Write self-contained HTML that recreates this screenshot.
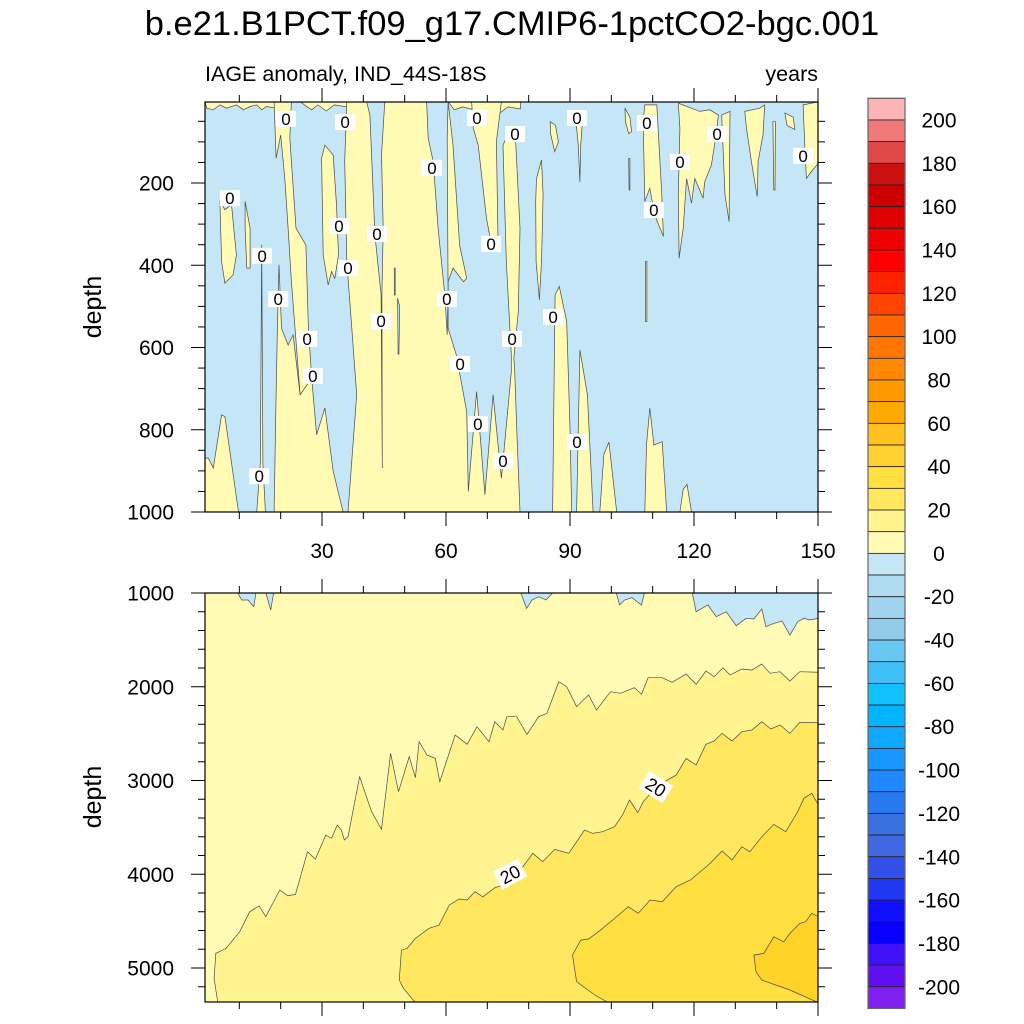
<!DOCTYPE html>
<html><head><meta charset="utf-8"><style>
html,body{margin:0;padding:0;background:#fff;}
svg{display:block;font-family:"Liberation Sans",Arial,sans-serif;}
</style></head><body>
<svg id="chart" width="1024" height="1024" viewBox="0 0 1024 1024" xmlns="http://www.w3.org/2000/svg">
<defs>
<clipPath id="clipTop"><rect x="205" y="102" width="613" height="410"/></clipPath>
<clipPath id="clipBot"><rect x="205" y="593" width="613" height="409"/></clipPath>
</defs>
<text x="512" y="35" font-size="34.5" text-anchor="middle" fill="#000">b.e21.B1PCT.f09_g17.CMIP6-1pctCO2-bgc.001</text>
<text x="205" y="81" font-size="21.5" fill="#000">IAGE anomaly, IND_44S-18S</text>
<text x="818" y="81" font-size="21.5" text-anchor="end" fill="#000">years</text>
<g id="topPanel"></g>
<g id="botPanel"></g>
<g id="cbar"></g>
<text transform="translate(101,307) rotate(-90)" font-size="25" text-anchor="middle">depth</text>
<text transform="translate(101,797) rotate(-90)" font-size="25" text-anchor="middle">depth</text>
</svg>
<script>
// ---- data ----
const xTickYears = [30, 60, 90, 120, 150];
const topDepthTicks = [200, 400, 600, 800, 1000];
const botDepthTicks = [1000, 2000, 3000, 4000, 5000];
const cbarLevels = [-200,-190,-180,-170,-160,-150,-140,-130,-120,-110,-100,-90,-80,-70,-60,-50,-40,-30,-20,-10,0,10,20,30,40,50,60,70,80,90,100,110,120,130,140,150,160,170,180,190,200];
const cbarLabels = [200,180,160,140,120,100,80,60,40,20,0,-20,-40,-60,-80,-100,-120,-140,-160,-180,-200];
const cbarColors = ["#8020f0","#6010f0","#4010f8","#0800ff","#1010ff","#2038f0","#3050e8","#4068e0","#3870e0","#2878f0","#2088ff","#1898ff","#10a8ff","#00b4ff","#10c0ff","#40c0f8","#68c8f2","#90ccea","#a0d4ee","#b0dcf2","#c4e6f6","#fffab4","#fff490","#ffe860","#ffe040","#ffd030","#ffc020","#ffaa00","#ff9900","#ff8800","#ff7700","#ff6600","#ff4400","#ff2200","#ff0000","#ee0000","#dd0000","#cc0000","#cc1010","#e04848","#f07a7a","#fcb4b4"];

// top panel: positive (>=0) regions as [year, depth] polygons
const topPositive = [
 [[1.7,2],[19,2],[19,18],[16.6,14],[15.4,22],[14.2,10],[12.6,14],[11,22],[9.3,10],[6.9,18],[5.3,10],[3.7,22],[2.1,18]],
 [[24.7,2],[36,2],[36,15],[33,10],[31,25],[29,10],[27.5,22],[26,12]],
 [[60.5,2],[78,2],[78,20],[75,15],[73,30],[70,12],[68,25],[64,15],[62,22]],
 [[1.7,1000],[1.7,869],[2.5,869],[3.7,893],[5.7,764],[6.5,768],[9.8,1000]],
 [[5.3,245],[6.5,265],[8.1,253],[9.3,375],[8.5,423],[6.5,444],[5.7,391]],
 [[11.4,245],[12.6,310],[12.6,407],[11.8,407],[11.4,310]],
 [[15.4,350],[15.7,880],[16.3,1000],[14.2,1000],[15.1,880]],
 [[18.4,2],[22.6,2],[22.2,91],[23.7,310],[26.1,351],[26.7,553],[27.5,675],[24.7,715],[24.1,634],[22.6,440],[21.8,310],[21,189],[20,83],[18.9,140]],
 [[19.6,399],[20.2,553],[21.8,594],[23,569],[24.7,715],[27.5,675],[28.7,812],[30.7,747],[32.7,901],[35.1,1000],[18.4,1000],[18.9,715],[19.2,553]],
 [[29.9,140],[30.7,108],[32.7,132],[33.5,253],[34,375],[33.1,432],[32.3,415],[31.5,448],[30.3,375]],
 [[36,2],[60.5,2],[61.7,108],[63.3,351],[65,432],[64.2,440],[61.7,407],[60.5,440],[60.5,553],[62.5,618],[65,756],[65.4,950],[67.4,707],[69.4,958],[71.4,715],[73.4,918],[75.8,660],[75.8,618],[74.6,391],[73.8,108],[75,80],[76.7,67],[77.9,310],[77.5,513],[76.4,626],[76.6,650],[77.1,796],[77.9,1000],[36.3,1000],[38.4,715],[37.2,553],[36,391],[35.5,148]],
 [[66.2,2],[73.4,2],[72.2,99],[72.6,351],[71,351],[69.8,286],[67.8,108],[66.6,67]],
 [[81.9,189],[83.1,144],[83.5,229],[83.1,391],[82.6,484],[81.8,391],[81.7,245]],
 [[85.2,51],[86.5,60],[87.2,100],[86.3,124],[85.3,80]],
 [[91.2,26],[93.2,26],[92.6,108],[92.4,197],[92,108]],
 [[103.3,18],[104.5,40],[104.9,75],[104.2,80],[103.4,50]],
 [[104.2,140],[104.5,140],[104.5,217],[104.3,217]],
 [[108.1,10],[111,10],[112.2,229],[112.6,330],[110.5,278],[109.3,213],[108.1,245],[107.7,51]],
 [[116.2,6],[121.4,26],[123.8,22],[125.9,35],[125.1,99],[124.2,156],[122.6,197],[122.2,237],[120.2,189],[119.4,249],[118.2,189],[117.4,310],[116.4,383],[116.2,229],[116.6,67]],
 [[126.7,35],[128.7,26],[128.5,294],[127.5,229]],
 [[132.3,26],[135.9,18],[137.1,10],[136.7,83],[135.5,148],[135.3,233],[133.9,148],[132.7,67]],
 [[139.1,51],[139.7,51],[139.6,217],[139.3,217]],
 [[142,30],[144,40],[144.4,70],[142.5,60]],
 [[146.4,10],[150.4,2],[150.4,148],[148.4,172],[147.2,189],[146.8,108]],
 [[108.3,391],[108.6,391],[108.6,537],[108.3,537]],
 [[85.8,1000],[86.4,472],[87.4,452],[89.2,537],[90,796],[90.4,1000]],
 [[91.6,1000],[92.4,606],[94.2,715],[95.6,1000]],
 [[97.2,1000],[98.2,860],[99.4,830],[101.3,1000]],
 [[108.1,1000],[108.5,837],[109.3,747],[110.3,837],[112.3,829],[113.4,1000]],
 [[116.6,1000],[117.4,945],[118.3,933],[119.4,1000]]
];
// negative tongues inside positive regions
const topNegative = [
 [[40.8,2],[45.2,2],[44.4,132],[44.8,310],[44.5,472],[44.6,893],[44.3,472],[42.8,326],[42.2,180],[41.6,35]],
 [[55.3,2],[60.5,2],[60.3,91],[60.5,472],[60.3,569],[59.7,472],[58.1,310],[56.9,148],[55.7,91]],
 [[47.5,407],[47.7,407],[47.7,472],[47.5,472]],
 [[48.3,480],[48.8,500],[48.6,616],[48.4,616]]
];
const topLabelYears = [21.3,35.6,67.5,76.7,91.7,108.6,125.6,146.4,116.6,56.6,7.7,110.3,34.1,43.3,70.9,15.5,36.3,60.2,19.4,85.9,44.3,26.4,76,27.8,63.4,67.7,91.7,14.8,73.8];
const topLabelDepths = [44,52,42,81,42,54,81,134,149,163,237,266,305,324,348,377,407,482,482,526,536,579,579,669,640,786,830,913,876];

// bottom panel contours [year, depth]
const contour10 = [[4.8,5370],[3.9,5111],[4.3,4844],[6.8,4791],[10.1,4613],[12.5,4400],[14.8,4336],[16.4,4453],[19.8,4168],[21.7,4229],[23.6,4215],[26.5,3760],[28.4,3838],[30.9,3582],[32.3,3617],[33.7,3475],[34.7,3528],[35.4,3635],[36.3,3600],[39.1,2959],[42,3333],[44.4,3521],[46.6,2710],[48.5,3119],[51.1,2746],[52.6,2970],[53.5,2586],[55.4,2728],[57.4,2764],[58.5,3013],[62.2,2515],[65.1,2614],[67.5,2426],[70.4,2586],[71.8,2373],[73.8,2461],[74.7,2319],[77.1,2319],[79.6,2508],[82.4,2319],[84.4,2284],[87.3,1946],[89.2,1999],[91.6,2213],[94.5,2088],[96.4,2248],[99.8,2053],[102.2,2070],[105.6,2010],[107.3,2081],[108.9,1903],[112.3,1903],[114.7,1953],[118.1,1864],[120.5,1974],[122.9,1832],[124.9,1893],[127,1797],[128.7,1875],[131.6,1811],[134,1822],[136.4,1757],[138.4,1857],[140.8,1839],[143.2,1939],[145.6,1839],[150.1,1846]];
const contour20 = [[52.6,5370],[49.7,5217],[48.7,5129],[49.2,4809],[50.6,4791],[52.6,4684],[55.9,4577],[58.3,4542],[60.8,4328],[63.2,4264],[65.1,4275],[67,4186],[68.9,4240],[71.8,4144],[73.8,4115],[76.7,3973],[78.6,3920],[81,3777],[83.4,3866],[86.3,3735],[89.7,3777],[93.5,3528],[95.5,3564],[97.9,3546],[100.8,3493],[102.7,3368],[104.4,3208],[106.4,3343],[107.7,3226],[111.4,3048],[115.7,2942],[118.1,2764],[120.5,2835],[122.9,2614],[124.9,2579],[126.8,2497],[129.2,2579],[131.6,2479],[134,2461],[136.4,2373],[138.6,2451],[140.8,2408],[143.2,2497],[145.6,2380],[150.1,2380]];
const contour30 = [[99.3,5370],[96,5288],[91.6,5146],[90.6,4862],[92.6,4702],[94.5,4691],[96.9,4613],[100.8,4471],[104.1,4346],[106.5,4417],[109.4,4275],[112.3,4293],[115.7,4133],[119.1,4062],[123.9,3884],[126.8,3752],[129.2,3848],[131.6,3706],[133.5,3760],[136.4,3600],[139.3,3468],[142.2,3546],[145.1,3333],[146.6,3190],[148.5,3137],[150.1,3262]];
const contour40 = [[150.1,5370],[143.2,5235],[136.4,5129],[135,5040],[134.5,4862],[136.9,4844],[139.3,4666],[141.7,4720],[143.2,4631],[145.6,4524],[147,4506],[148.5,4417],[150.1,4453]];
const botNegative = [
 [[9.6,1000],[14,1000],[13.5,1146],[12.1,1075],[10.6,1075]],
 [[16.4,1000],[18.3,1000],[17.6,1181],[16.9,1075]],
 [[78.1,1000],[85.8,1000],[84.2,1075],[82.4,1039],[80.8,1075],[79.5,1164]],
 [[101.2,1000],[108,1000],[107.3,1128],[105,1050],[103.2,1075],[102,1128]],
 [[119.6,1000],[120.5,1199],[123.4,1128],[125.4,1253],[127.8,1199],[130.2,1349],[132.6,1270],[134.5,1277],[136.4,1171],[137.4,1359],[139.3,1324],[141.3,1299],[143.2,1448],[145.1,1306],[146.6,1270],[148,1288],[150.1,1270],[150.1,1000]]
];
const botLabelYears = [75.5, 110.8];
const botLabelDepths = [4000, 3070];
const botLabelAngles = [-28, 32];

// ---- axis functions ----
const NS = "http://www.w3.org/2000/svg";
const X = y => 198 + y * 4.1333;
const YT = d => 100.75 + d * 0.41125;
const YB = d => 593 + (d - 1000) * 0.09375;
const PL = 205, PR = 818;
function mk(tag, attrs, parent){const e=document.createElementNS(NS,tag);for(const k in attrs)e.setAttribute(k,attrs[k]);parent.appendChild(e);return e;}
function pts(poly, fy){return poly.map(p=>X(p[0]).toFixed(1)+","+fy(p[1]).toFixed(1)).join(" ");}

const BLUE = "#c4e6f6", Y0 = "#fffab4";
const STROKE = "#4a4a4a";

// ---- top panel ----
const topG = document.getElementById("topPanel");
const tg = mk("g", {"clip-path":"url(#clipTop)"}, topG);
const tbg = mk("rect", {x:PL,y:102,width:PR-PL,height:410,fill:BLUE}, tg);


topPositive.forEach(poly=>{
  const p = mk("polygon", {points:pts(poly,YT), fill:Y0, stroke:STROKE, "stroke-width":0.7}, tg);
  
  
});
topNegative.forEach(poly=>{
  const p = mk("polygon", {points:pts(poly,YT), fill:BLUE, stroke:STROKE, "stroke-width":0.7}, tg);
  
  
});
topLabelYears.forEach((yr,i)=>{
  const cx = X(yr), cy = YT(topLabelDepths[i]);
  const g = mk("g", {}, tg);
  
  
  mk("rect", {x:cx-10,y:cy-8,width:20,height:16,fill:"#fff"}, g);
  const t = mk("text", {x:cx,y:cy+6,"font-size":17,"text-anchor":"middle",fill:"#000"}, g);
  t.textContent = "0";
});
const tf = mk("rect", {x:PL,y:102,width:PR-PL,height:410,fill:"none",stroke:"#000","stroke-width":1.2}, topG);



// ---- bottom panel ----
const botG = document.getElementById("botPanel");
const bg = mk("g", {"clip-path":"url(#clipBot)"}, botG);
const bbg = mk("rect", {x:PL,y:593,width:PR-PL,height:409,fill:Y0}, bg);


[[contour10,"#fff490","band-10-20"],[contour20,"#ffe860","band-20-30"],[contour30,"#ffe040","band-30-40"],[contour40,"#ffd228","band-40-50"]].forEach(c=>{
  const poly = c[0].concat([[150.5,5400],[c[0][0][0],5400]]);
  const p = mk("polygon", {points:pts(poly,YB), fill:c[1], stroke:"none"}, bg);
  
  
  const l = mk("polyline", {points:pts(c[0],YB), fill:"none", stroke:STROKE, "stroke-width":0.7}, bg);
  
  
});
botNegative.forEach(poly=>{
  const p = mk("polygon", {points:pts(poly,YB), fill:BLUE, stroke:STROKE, "stroke-width":0.7}, bg);
  
  
});
botLabelYears.forEach((yr,i)=>{
  const cx = X(yr), cy = YB(botLabelDepths[i]);
  const g = mk("g", {transform:`translate(${cx},${cy}) rotate(${botLabelAngles[i]})`}, bg);
  
  
  mk("rect", {x:-14,y:-10,width:28,height:20,fill:"#fff"}, g);
  const t = mk("text", {x:0,y:6.5,"font-size":18,"text-anchor":"middle",fill:"#000"}, g);
  t.textContent = "20";
});
const bf = mk("rect", {x:PL,y:593,width:PR-PL,height:409,fill:"none",stroke:"#000","stroke-width":1.2}, botG);



// ---- ticks ----
function ticks(parent, yTop, yBot, fy, dMin, dMax, dMinor, dMajor, labels, showXLabels){
  const g = mk("g", {stroke:"#000","stroke-width":1}, parent);
  
  
  for(let yr=10; yr<=150; yr+=10){
    const x = X(yr), len = (yr%30===0)?14:7;
    mk("line",{x1:x,y1:yBot,x2:x,y2:yBot+len},g);
    mk("line",{x1:x,y1:yTop,x2:x,y2:yTop-len},g);
  }
  for(let d=Math.ceil(dMin/dMinor)*dMinor; d<=dMax; d+=dMinor){
    const y = fy(d); if(y<yTop-0.5||y>yBot+0.5) continue;
    const len = (d%dMajor===0)?14:7;
    mk("line",{x1:PL,y1:y,x2:PL-len,y2:y},g);
    mk("line",{x1:PR,y1:y,x2:PR+len,y2:y},g);
  }
  labels.forEach(d=>{
    const t = mk("text",{x:174,y:fy(d)+7.5,"font-size":21,"text-anchor":"end",fill:"#000"},parent);
    
    
    t.textContent = d;
  });
  if(showXLabels){
    xTickYears.forEach(yr=>{
      const t = mk("text",{x:X(yr),y:yBot+46,"font-size":21,"text-anchor":"middle",fill:"#000"},parent);
      
      
      t.textContent = yr;
    });
  }
}
ticks(topG, 102, 512, YT, 0, 1000, 50, 200, topDepthTicks, true);
ticks(botG, 593, 1002, YB, 1000, 5400, 200, 1000, botDepthTicks, false);

// ---- colorbar ----
const cb = document.getElementById("cbar");
const cbTop = 98.3, boxH = 21.67, cbX = 868, cbW = 37;
cbarColors.slice().reverse().forEach((c,i)=>{
  const r = mk("rect",{x:cbX,y:cbTop+i*boxH,width:cbW,height:boxH,fill:c,stroke:"#222","stroke-width":0.8},cb);
  
  
});
const cbo = mk("rect",{x:cbX,y:cbTop,width:cbW,height:boxH*cbarColors.length,fill:"none",stroke:"#666","stroke-width":1.2},cb);


const zeroY = cbTop + boxH*(cbarLevels.length - cbarLevels.indexOf(0));
cbarLabels.forEach(v=>{
  const t = mk("text",{x:939,y:zeroY - v/10*boxH + 7.5,"font-size":21,"text-anchor":"middle",fill:"#000"},cb);
  
  
  t.textContent = v;
});
</script>
</body></html>
